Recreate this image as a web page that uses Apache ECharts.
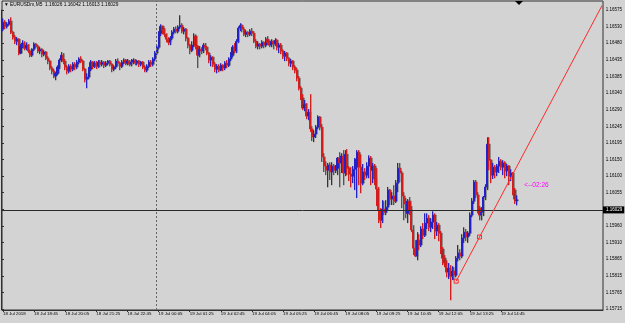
<!DOCTYPE html>
<html>
<head>
<meta charset="utf-8">
<script src="https://cdn.jsdelivr.net/npm/echarts@6/dist/echarts.min.js"></script>
<style>
html,body{margin:0;padding:0;background:#d3d3d3;}
#chart{width:625px;height:323px;}
</style>
</head>
<body>
<div id="chart"></div>
<script>
// Bar times: M5 bars from 18 Jul 17:25 (one slot per bar, incl. the empty chart-shift area)
const barCount = 309;
const startHour = 17, startMin = 25;

// Tick labels shown every 16 bars on the time axis
const timeTickLabels = ["18 Jul 2018","18 Jul 18:45","18 Jul 20:05","18 Jul 21:25","18 Jul 22:45",
  "19 Jul 00:05","19 Jul 01:25","19 Jul 02:45","19 Jul 04:05","19 Jul 05:25","19 Jul 06:45",
  "19 Jul 08:05","19 Jul 09:25","19 Jul 10:45","19 Jul 12:05","19 Jul 13:25","19 Jul 14:45"];

// Price scale labels (bottom to top)
const priceTickLabels = ["1.15715","1.15765","1.15815","1.15865","1.15910","1.15960","1.16005",
  "1.16055","1.16100","1.16150","1.16195","1.16245","1.16290","1.16340","1.16385","1.16435",
  "1.16480","1.16530","1.16575"];

// Candles: [open, close, low, high]
const candles = [
[1.16520,1.16540,1.16514,1.16551],[1.16540,1.16528,1.16520,1.16546],[1.16528,1.16534,1.16522,1.16540],[1.16534,1.16543,1.16530,1.16549],
[1.16543,1.16511,1.16506,1.16554],[1.16511,1.16497,1.16490,1.16514],[1.16497,1.16485,1.16477,1.16503],[1.16485,1.16491,1.16474,1.16497],
[1.16491,1.16451,1.16445,1.16494],[1.16451,1.16471,1.16448,1.16477],[1.16471,1.16480,1.16465,1.16488],[1.16480,1.16465,1.16459,1.16485],
[1.16465,1.16474,1.16459,1.16482],[1.16474,1.16457,1.16451,1.16477],[1.16457,1.16445,1.16439,1.16462],[1.16445,1.16462,1.16440,1.16465],
[1.16462,1.16477,1.16457,1.16482],[1.16477,1.16471,1.16465,1.16480],[1.16471,1.16457,1.16451,1.16474],[1.16457,1.16462,1.16448,1.16468],
[1.16462,1.16448,1.16439,1.16465],[1.16448,1.16454,1.16442,1.16459],[1.16454,1.16436,1.16431,1.16457],[1.16436,1.16428,1.16419,1.16442],
[1.16428,1.16408,1.16402,1.16431],[1.16408,1.16399,1.16390,1.16413],[1.16399,1.16385,1.16379,1.16405],[1.16385,1.16393,1.16373,1.16396],
[1.16393,1.16411,1.16388,1.16416],[1.16411,1.16431,1.16405,1.16436],[1.16431,1.16445,1.16425,1.16454],[1.16445,1.16428,1.16419,1.16451],
[1.16428,1.16411,1.16402,1.16434],[1.16411,1.16399,1.16390,1.16416],[1.16399,1.16413,1.16393,1.16419],[1.16413,1.16405,1.16396,1.16419],
[1.16405,1.16419,1.16399,1.16425],[1.16419,1.16411,1.16402,1.16425],[1.16411,1.16425,1.16405,1.16431],[1.16425,1.16434,1.16419,1.16439],
[1.16434,1.16428,1.16422,1.16442],[1.16428,1.16405,1.16399,1.16431],[1.16405,1.16376,1.16367,1.16408],[1.16376,1.16382,1.16350,1.16393],
[1.16382,1.16405,1.16376,1.16411],[1.16405,1.16425,1.16399,1.16431],[1.16425,1.16413,1.16405,1.16428],[1.16413,1.16422,1.16408,1.16428],
[1.16422,1.16413,1.16405,1.16428],[1.16413,1.16425,1.16408,1.16431],[1.16425,1.16419,1.16411,1.16431],[1.16419,1.16425,1.16413,1.16431],
[1.16425,1.16416,1.16408,1.16428],[1.16416,1.16422,1.16411,1.16428],[1.16422,1.16428,1.16416,1.16431],[1.16428,1.16419,1.16413,1.16431],
[1.16419,1.16405,1.16396,1.16422],[1.16405,1.16411,1.16399,1.16416],[1.16411,1.16428,1.16405,1.16434],[1.16428,1.16422,1.16413,1.16436],
[1.16422,1.16413,1.16402,1.16425],[1.16413,1.16425,1.16408,1.16431],[1.16425,1.16431,1.16419,1.16436],[1.16431,1.16422,1.16416,1.16434],
[1.16422,1.16428,1.16416,1.16434],[1.16428,1.16419,1.16413,1.16431],[1.16419,1.16425,1.16413,1.16434],[1.16425,1.16431,1.16419,1.16436],
[1.16431,1.16422,1.16416,1.16434],[1.16422,1.16428,1.16416,1.16431],[1.16428,1.16419,1.16411,1.16431],[1.16419,1.16425,1.16413,1.16428],
[1.16425,1.16411,1.16405,1.16428],[1.16411,1.16402,1.16396,1.16416],[1.16402,1.16413,1.16396,1.16419],[1.16413,1.16425,1.16408,1.16431],
[1.16425,1.16419,1.16411,1.16431],[1.16419,1.16434,1.16413,1.16439],[1.16434,1.16451,1.16428,1.16457],[1.16451,1.16468,1.16445,1.16474],
[1.16468,1.16508,1.16462,1.16514],[1.16508,1.16528,1.16500,1.16534],[1.16528,1.16517,1.16505,1.16531],[1.16517,1.16505,1.16497,1.16523],
[1.16505,1.16491,1.16482,1.16508],[1.16491,1.16482,1.16474,1.16497],[1.16482,1.16494,1.16474,1.16500],[1.16494,1.16511,1.16488,1.16517],
[1.16511,1.16520,1.16505,1.16526],[1.16520,1.16514,1.16508,1.16528],[1.16514,1.16526,1.16508,1.16531],[1.16526,1.16531,1.16520,1.16560],
[1.16531,1.16514,1.16508,1.16537],[1.16514,1.16520,1.16505,1.16526],[1.16520,1.16494,1.16485,1.16523],[1.16494,1.16474,1.16465,1.16497],
[1.16474,1.16459,1.16448,1.16477],[1.16459,1.16474,1.16454,1.16485],[1.16474,1.16500,1.16468,1.16508],[1.16500,1.16471,1.16462,1.16505],
[1.16471,1.16445,1.16408,1.16474],[1.16445,1.16462,1.16439,1.16471],[1.16462,1.16457,1.16448,1.16468],[1.16457,1.16474,1.16451,1.16480],
[1.16474,1.16468,1.16459,1.16480],[1.16468,1.16451,1.16445,1.16471],[1.16451,1.16431,1.16422,1.16454],[1.16431,1.16439,1.16413,1.16445],
[1.16439,1.16419,1.16411,1.16442],[1.16419,1.16405,1.16396,1.16425],[1.16405,1.16413,1.16393,1.16419],[1.16413,1.16402,1.16396,1.16419],
[1.16402,1.16416,1.16399,1.16422],[1.16416,1.16408,1.16399,1.16419],[1.16408,1.16422,1.16402,1.16428],[1.16422,1.16416,1.16408,1.16431],
[1.16416,1.16434,1.16411,1.16439],[1.16434,1.16445,1.16428,1.16454],[1.16445,1.16468,1.16439,1.16474],[1.16468,1.16457,1.16451,1.16480],
[1.16457,1.16485,1.16451,1.16491],[1.16485,1.16523,1.16480,1.16528],[1.16523,1.16531,1.16514,1.16537],[1.16531,1.16520,1.16511,1.16534],
[1.16520,1.16505,1.16500,1.16526],[1.16505,1.16511,1.16497,1.16517],[1.16511,1.16505,1.16497,1.16514],[1.16505,1.16514,1.16500,1.16520],
[1.16514,1.16508,1.16500,1.16523],[1.16508,1.16485,1.16480,1.16514],[1.16485,1.16471,1.16465,1.16491],[1.16471,1.16477,1.16462,1.16485],
[1.16477,1.16471,1.16462,1.16480],[1.16471,1.16482,1.16465,1.16488],[1.16482,1.16474,1.16465,1.16485],[1.16474,1.16491,1.16468,1.16497],
[1.16491,1.16482,1.16474,1.16500],[1.16482,1.16474,1.16468,1.16488],[1.16474,1.16485,1.16468,1.16491],[1.16485,1.16477,1.16462,1.16488],
[1.16477,1.16488,1.16471,1.16494],[1.16488,1.16468,1.16459,1.16491],[1.16468,1.16474,1.16451,1.16480],[1.16474,1.16457,1.16448,1.16480],
[1.16457,1.16442,1.16434,1.16462],[1.16442,1.16451,1.16428,1.16457],[1.16451,1.16436,1.16428,1.16454],[1.16436,1.16422,1.16413,1.16439],
[1.16422,1.16428,1.16411,1.16434],[1.16428,1.16411,1.16402,1.16431],[1.16411,1.16402,1.16393,1.16416],[1.16402,1.16379,1.16370,1.16408],
[1.16379,1.16350,1.16344,1.16385],[1.16350,1.16322,1.16316,1.16356],[1.16322,1.16293,1.16287,1.16333],[1.16293,1.16304,1.16284,1.16316],
[1.16304,1.16270,1.16261,1.16307],[1.16270,1.16281,1.16258,1.16290],[1.16281,1.16233,1.16224,1.16333],[1.16233,1.16210,1.16198,1.16241],
[1.16210,1.16218,1.16195,1.16229],[1.16218,1.16238,1.16207,1.16244],[1.16238,1.16267,1.16232,1.16272],[1.16267,1.16238,1.16229,1.16270],
[1.16238,1.16152,1.16138,1.16247],[1.16152,1.16126,1.16109,1.16163],[1.16126,1.16114,1.16100,1.16140],[1.16114,1.16129,1.16065,1.16135],
[1.16129,1.16109,1.16086,1.16137],[1.16109,1.16126,1.16071,1.16137],[1.16126,1.16114,1.16100,1.16132],[1.16114,1.16120,1.16106,1.16129],
[1.16120,1.16149,1.16100,1.16152],[1.16149,1.16135,1.16065,1.16166],[1.16135,1.16155,1.16106,1.16163],[1.16155,1.16106,1.16071,1.16172],
[1.16106,1.16160,1.16097,1.16172],[1.16160,1.16120,1.16100,1.16175],[1.16120,1.16103,1.16083,1.16126],[1.16103,1.16097,1.16065,1.16123],
[1.16097,1.16117,1.16077,1.16126],[1.16117,1.16146,1.16057,1.16149],[1.16123,1.16166,1.16034,1.16172],[1.16166,1.16123,1.16071,1.16172],
[1.16123,1.16077,1.16048,1.16160],[1.16077,1.16109,1.16071,1.16132],[1.16109,1.16100,1.16086,1.16120],[1.16100,1.16126,1.16091,1.16137],
[1.16126,1.16149,1.16091,1.16157],[1.16149,1.16114,1.16071,1.16155],[1.16114,1.16126,1.16077,1.16135],[1.16126,1.16089,1.16071,1.16132],
[1.16089,1.16060,1.16011,1.16120],[1.16060,1.15999,1.15962,1.16066],[1.15999,1.15970,1.15948,1.16005],[1.15970,1.16002,1.15962,1.16028],
[1.16002,1.15993,1.15985,1.16025],[1.15993,1.16008,1.15985,1.16028],[1.16008,1.16057,1.16000,1.16066],[1.16057,1.16031,1.16014,1.16060],
[1.16031,1.16040,1.16014,1.16051],[1.16040,1.16025,1.16014,1.16071],[1.16025,1.16077,1.16020,1.16086],[1.16077,1.16120,1.16051,1.16135],
[1.16120,1.16106,1.16080,1.16135],[1.16106,1.16040,1.16005,1.16112],[1.16040,1.16017,1.15970,1.16051],[1.16017,1.15990,1.15976,1.16034],
[1.15990,1.16025,1.15962,1.16031],[1.16025,1.15999,1.15985,1.16037],[1.15999,1.15942,1.15936,1.16011],[1.15942,1.15890,1.15870,1.15956],
[1.15890,1.15867,1.15864,1.15913],[1.15867,1.15913,1.15855,1.15936],[1.15913,1.15899,1.15884,1.15930],[1.15899,1.15945,1.15893,1.15953],
[1.15945,1.15927,1.15916,1.15962],[1.15927,1.15962,1.15922,1.15990],[1.15962,1.15976,1.15945,1.15990],[1.15976,1.15950,1.15939,1.15985],
[1.15950,1.15965,1.15936,1.15976],[1.15965,1.15985,1.15945,1.15996],[1.15985,1.15939,1.15916,1.15990],[1.15939,1.15956,1.15925,1.15965],
[1.15956,1.15933,1.15910,1.15962],[1.15933,1.15887,1.15873,1.15939],[1.15887,1.15861,1.15841,1.15893],[1.15861,1.15847,1.15835,1.15870],
[1.15847,1.15821,1.15806,1.15855],[1.15821,1.15832,1.15801,1.15847],[1.15832,1.15809,1.15740,1.15841],[1.15809,1.15824,1.15798,1.15838],
[1.15824,1.15812,1.15798,1.15835],[1.15812,1.15861,1.15806,1.15867],[1.15861,1.15876,1.15852,1.15899],[1.15876,1.15867,1.15855,1.15887],
[1.15867,1.15919,1.15861,1.15930],[1.15919,1.15936,1.15905,1.15950],[1.15936,1.15922,1.15910,1.15945],[1.15922,1.15933,1.15905,1.15939],
[1.15933,1.15985,1.15925,1.15993],[1.15985,1.16025,1.15979,1.16034],[1.16025,1.16080,1.16017,1.16086],[1.16080,1.16043,1.16034,1.16086],
[1.16043,1.16005,1.15990,1.16051],[1.16005,1.15985,1.15970,1.16011],[1.15985,1.15993,1.15970,1.16008],[1.15993,1.16037,1.15982,1.16040],
[1.16037,1.16066,1.16028,1.16074],[1.16066,1.16189,1.16057,1.16209],[1.16189,1.16143,1.16114,1.16209],[1.16143,1.16100,1.16077,1.16146],
[1.16100,1.16123,1.16089,1.16135],[1.16123,1.16109,1.16091,1.16129],[1.16109,1.16126,1.16097,1.16132],[1.16126,1.16140,1.16106,1.16152],
[1.16140,1.16123,1.16114,1.16146],[1.16123,1.16135,1.16100,1.16143],[1.16135,1.16112,1.16091,1.16140],[1.16112,1.16126,1.16097,1.16132],
[1.16126,1.16097,1.16071,1.16129],[1.16097,1.16106,1.16083,1.16117],[1.16106,1.16057,1.16042,1.16109],[1.16057,1.16031,1.16017,1.16063],
[1.16026,1.16029,1.16013,1.16042]
];

// Annotations (data coordinates: [bar index, price])
const currentPrice = 1.16029;
const separatorBar = 79;              // 19 Jul 00:00 period separator
const trendStart = [233, 1.15795];
const trendEnd = [308, 1.16588];
const trendMid = [245, 1.15922];
const timerPoint = [268, 1.16072];
const timerText = '<--02:26';
const titleText = '\u25BC EURUSDm,M5  1.16026 1.16042 1.16013 1.16029';

const categories = [];
for (let i = 0; i < barCount; i++) {
  let m = startHour * 60 + startMin + i * 5;
  const day = m >= 1440 ? 19 : 18;
  m = m % 1440;
  const hh = String(Math.floor(m / 60)).padStart(2, '0');
  const mm = String(m % 60).padStart(2, '0');
  categories.push(day + ' Jul ' + hh + ':' + mm);
}

const FONT = "'Liberation Sans',Arial,sans-serif";
const showTick = (i) => i % 16 === 0 && i / 16 < timeTickLabels.length;

const chart = echarts.init(document.getElementById('chart'), null, {renderer: 'canvas'});
chart.setOption({
  animation: false,
  backgroundColor: '#d3d3d3',
  title: {
    text: titleText, left: 4, top: 2, padding: 0,
    textStyle: {fontSize: 4.8, fontWeight: 'normal', color: '#000', fontFamily: FONT}
  },
  grid: [
    {left: 1, right: 22, top: 1, bottom: 13, show: true, borderColor: '#303030', borderWidth: 1, backgroundColor: 'transparent'},
    {left: 1, right: 22, top: 10, bottom: 14, show: false}
  ],
  xAxis: [
    {
      type: 'category', gridIndex: 0, data: categories, boundaryGap: true,
      axisLine: {show: true, lineStyle: {color: '#303030', width: 1}},
      axisTick: {show: true, interval: showTick, length: 2, alignWithLabel: true, lineStyle: {color: '#303030'}},
      axisLabel: {
        show: true, interval: showTick, align: 'left', margin: 2,
        fontSize: 4.4, color: '#000', fontFamily: FONT,
        formatter: (v, idx) => timeTickLabels[idx / 16] || ''
      },
      splitLine: {show: false}
    },
    {type: 'value', gridIndex: 1, show: false, min: 0, max: 1}
  ],
  yAxis: [
    {type: 'value', gridIndex: 0, min: 1.15712, max: 1.16601, show: false, splitLine: {show: false}},
    {
      type: 'value', gridIndex: 1, position: 'right', min: 0, max: 18, interval: 1,
      axisLine: {show: true, lineStyle: {color: '#303030'}},
      axisTick: {show: true, length: 3, lineStyle: {color: '#303030'}},
      axisLabel: {show: true, margin: 3, fontSize: 4.5, color: '#000', fontFamily: FONT,
        formatter: (v) => priceTickLabels[Math.round(v)] || ''},
      splitLine: {show: false}
    }
  ],
  graphic: [
    {type: 'polygon', shape: {points: [[515, 1], [523, 1], [519, 5]]}, style: {fill: '#000'}}
  ],
  series: [{
    type: 'candlestick',
    xAxisIndex: 0, yAxisIndex: 0,
    data: candles,
    barWidth: 1.6,
    itemStyle: {
      color: '#2222c8', color0: '#d41e1e',
      borderColor: '#2222c8', borderColor0: '#d41e1e', borderWidth: 1,
      shadowBlur: 0, shadowOffsetX: 1, shadowColor: 'rgba(50,50,50,0.3)'
    },
    markLine: {
      silent: true, symbol: ['none', 'none'], animation: false,
      data: [
        {yAxis: currentPrice,
          lineStyle: {color: '#2a2a2a', width: 1, type: 'solid'},
          label: {show: true, position: 'end', distance: 0, formatter: '1.16029',
            backgroundColor: '#000', color: '#fff', fontSize: 4.5, fontFamily: FONT, padding: [1, 2, 1, 3]}},
        {xAxis: categories[separatorBar],
          lineStyle: {color: '#666', width: 1, type: [2, 2]},
          label: {show: false}},
        [{coord: trendStart, lineStyle: {color: '#ff2a2a', width: 1, type: 'solid'}, label: {show: false}},
         {coord: trendEnd}]
      ]
    },
    markPoint: {
      silent: true, animation: false,
      data: [
        {coord: trendStart, symbol: 'rect', symbolSize: 4,
          itemStyle: {color: 'rgba(0,0,0,0)', borderColor: '#ff2a2a', borderWidth: 1, shadowBlur: 0, shadowOffsetX: 0}, label: {show: false}},
        {coord: trendMid, symbol: 'rect', symbolSize: 4,
          itemStyle: {color: 'rgba(0,0,0,0)', borderColor: '#ff2a2a', borderWidth: 1, shadowBlur: 0, shadowOffsetX: 0}, label: {show: false}},
        {coord: timerPoint, symbol: 'rect', symbolSize: 0,
          itemStyle: {color: 'rgba(0,0,0,0)'},
          label: {show: true, position: 'right', distance: 0, formatter: timerText,
            color: '#ff00ff', fontSize: 6.5, fontFamily: FONT}}
      ]
    }
  }]
});
</script>
</body>
</html>
